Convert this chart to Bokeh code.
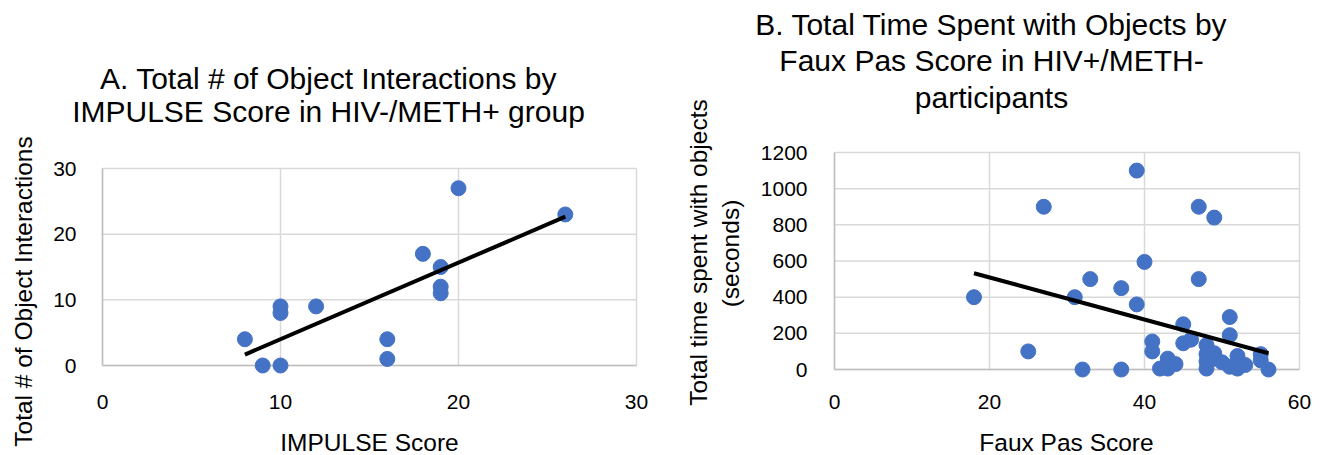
import numpy as np
from bokeh.plotting import figure
from bokeh.models import Range1d, Label
from bokeh.core.properties import value
from bokeh.layouts import row
from bokeh.embed import file_html
from bokeh.resources import INLINE

# ---------------- Chart A data ----------------
impulse_score = [8, 9, 10, 10, 10, 12, 16, 16, 18, 19, 19, 19, 20, 26]
object_interactions = [4, 0, 0, 9, 8, 9, 4, 1, 17, 15, 12, 11, 27, 23]
a_x_ticks = [0, 10, 20, 30]
a_y_ticks = [0, 10, 20, 30]
a_title = ["A. Total # of Object Interactions by", "IMPULSE Score in HIV-/METH+ group"]
a_xlabel = "IMPULSE Score"
a_ylabel = ["Total # of Object Interactions"]

# ---------------- Chart B data ----------------
faux_pas_score = [18, 25, 27, 31, 32, 33, 37, 37, 39, 39,
                  40, 41, 41, 42, 43, 43, 44, 45, 45, 46,
                  47, 47, 48, 48, 48, 48, 49, 49, 49, 50,
                  51, 51, 51, 52, 52, 52, 53, 55, 55, 56]
time_with_objects = [400, 100, 900, 400, 0, 500, 450, 0, 1100, 360,
                     595, 155, 100, 5, 60, 5, 30, 250, 145, 165,
                     900, 500, 135, 85, 45, 5, 840, 90, 60, 40,
                     290, 190, 15, 75, 40, 5, 25, 85, 50, 0]
b_x_ticks = [0, 20, 40, 60]
b_y_ticks = [0, 200, 400, 600, 800, 1000, 1200]
b_title = ["B. Total Time Spent with Objects by", "Faux Pas Score in HIV+/METH-", "participants"]
b_xlabel = "Faux Pas Score"
b_ylabel = ["Total time spent with objects", "(seconds)"]

FONT = "Liberation Sans"
BLUE = "#4472C4"
GRID = "#D9D9D9"
AXIS = "#BFBFBF"
H = 455


def make_chart(xs, ys, xticks, yticks, fig_x0, fig_w, box, ylab_gap, xlab_cy,
               title, title_cx, title_mids, xlabel, xlabel_pos,
               ylabel, ylabel_pos):
    # box: plot-area edges in page pixels (left, right, top, bottom)
    pl, pr, pt, pb = box
    xmin, xmax = xticks[0], xticks[-1]
    ymin, ymax = yticks[0], yticks[-1]
    ppx = (pr - pl) / (xmax - xmin)
    ppy = (pb - pt) / (ymax - ymin)
    x_range = Range1d(xmin + (fig_x0 - pl) / ppx, xmin + (fig_x0 + fig_w - pl) / ppx)
    y_range = Range1d(ymin - (H - pb) / ppy, ymin + pb / ppy)
    p = figure(width=fig_w, height=H, x_range=x_range, y_range=y_range,
               x_axis_location=None, y_axis_location=None,
               min_border=0, min_border_left=0, min_border_right=0,
               min_border_top=0, min_border_bottom=0,
               toolbar_location=None, tools="", output_backend="svg")
    p.xgrid.visible = False
    p.ygrid.visible = False
    p.outline_line_color = None
    p.background_fill_color = "white"
    p.border_fill_color = "white"

    # gridlines
    p.segment(x0=xticks, y0=[ymin] * len(xticks), x1=xticks, y1=[ymax] * len(xticks),
              line_color=GRID, line_width=1.5)
    p.segment(x0=[xmin] * len(yticks), y0=yticks, x1=[xmax] * len(yticks), y1=yticks,
              line_color=GRID, line_width=1.5)
    # axis lines
    p.segment(x0=[xmin, xmin], y0=[ymin, ymin], x1=[xmax, xmin], y1=[ymin, ymax],
              line_color=AXIS, line_width=1.5)

    # tick labels
    p.text(x=xticks, y=[ymin] * len(xticks), text=[str(t) for t in xticks],
           y_offset=xlab_cy - pb, text_align="center", text_baseline="middle",
           text_font=value(FONT), text_font_size=value("21px"), text_color="black")
    p.text(x=[xmin] * len(yticks), y=yticks, text=[str(t) for t in yticks],
           x_offset=-ylab_gap, text_align="right", text_baseline="middle",
           text_font=value(FONT), text_font_size=value("21px"), text_color="black")

    # data
    p.scatter(xs, ys, size=15, fill_color=BLUE, line_color=BLUE)
    m, b = np.polyfit(xs, ys, 1)
    tx = [min(xs), max(xs)]
    p.line(tx, [m * t + b for t in tx], line_color="black", line_width=4)

    def lab(text, px, py, size, angle=0.0):
        p.add_layout(Label(x=px - fig_x0, y=H - py, x_units="screen", y_units="screen",
                           text=text, text_font=FONT, text_font_size=size,
                           text_color="black", text_align="center",
                           text_baseline="middle", angle=angle))

    for t, ym in zip(title, title_mids):
        lab(t, title_cx, ym, "30px")
    lab(xlabel, xlabel_pos[0], xlabel_pos[1], "24.5px")
    for t, (px, py) in zip(ylabel, ylabel_pos):
        lab(t, px, py, "24.5px", angle=np.pi / 2)
    return p


pa = make_chart(impulse_score, object_interactions, a_x_ticks, a_y_ticks,
                fig_x0=0, fig_w=660, box=(102, 636, 168, 365), ylab_gap=26, xlab_cy=401,
                title=a_title, title_cx=328, title_mids=[78, 111],
                xlabel=a_xlabel, xlabel_pos=(369, 442),
                ylabel=a_ylabel, ylabel_pos=[(23, 291)])

pb = make_chart(faux_pas_score, time_with_objects, b_x_ticks, b_y_ticks,
                fig_x0=660, fig_w=665, box=(834, 1299, 152, 369), ylab_gap=27, xlab_cy=401,
                title=b_title, title_cx=991, title_mids=[24, 60, 97],
                xlabel=b_xlabel, xlabel_pos=(1066, 442),
                ylabel=b_ylabel, ylabel_pos=[(698, 252), (730, 253)])

layout = row(pa, pb)
open("out.html", "w").write(file_html(layout, INLINE))
